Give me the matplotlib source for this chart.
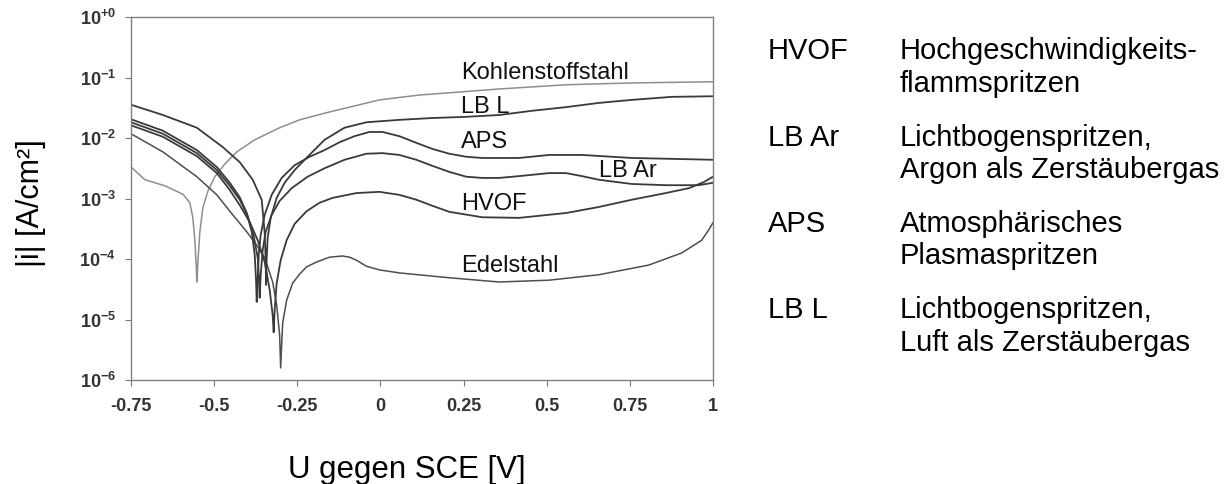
import numpy as np
import matplotlib
matplotlib.use("Agg")
import matplotlib.pyplot as plt
from matplotlib.ticker import FixedLocator, FixedFormatter, NullLocator


# Stromdichte-Potential-Kurven, Potential in V gegen SCE, log10 |i| in A/cm²

u_kohlenstoffstahl = [-0.75, -0.708, -0.648, -0.594, -0.573, -0.564, -0.558, -0.554,
                      -0.552, -0.549, -0.543, -0.534, -0.519, -0.498, -0.468, -0.432,
                      -0.378, -0.303, -0.243, -0.168, -0.093, -0.003, 0.117, 0.237,
                      0.357, 0.558, 0.756, 1.0]
log_i_kohlenstoffstahl = [-2.48, -2.69, -2.79, -2.93, -3.07, -3.32, -3.69, -4.10,
                          -4.38, -4.05, -3.55, -3.16, -2.88, -2.64, -2.43, -2.23,
                          -2.03, -1.83, -1.70, -1.59, -1.49, -1.37, -1.29, -1.24,
                          -1.19, -1.12, -1.09, -1.07]

u_lb_l = [-0.75, -0.654, -0.552, -0.474, -0.423, -0.384, -0.357, -0.348, -0.345,
          -0.344, -0.342, -0.339, -0.330, -0.312, -0.288, -0.258, -0.219, -0.168,
          -0.108, -0.042, 0.057, 0.156, 0.258, 0.357, 0.456, 0.558, 0.657, 0.756,
          0.876, 1.0]
log_i_lb_l = [-1.45, -1.62, -1.83, -2.15, -2.40, -2.69, -3.02, -3.57, -4.02,
              -4.43, -3.98, -3.65, -3.32, -2.99, -2.74, -2.53, -2.31, -2.03,
              -1.83, -1.74, -1.70, -1.67, -1.65, -1.62, -1.55, -1.49, -1.42, -1.37,
              -1.32, -1.31]

u_aps = [-0.75, -0.654, -0.552, -0.492, -0.453, -0.423, -0.402, -0.387, -0.378,
         -0.374, -0.372, -0.369, -0.366, -0.360, -0.348, -0.327, -0.297, -0.258,
         -0.213, -0.168, -0.123, -0.078, -0.033, 0.006, 0.057, 0.108, 0.156, 0.207,
         0.258, 0.306, 0.417, 0.507, 0.606, 0.756, 1.0]
log_i_aps = [-1.69, -1.88, -2.20, -2.48, -2.74, -2.98, -3.24, -3.55, -3.93,
             -4.35, -4.71, -4.35, -3.93, -3.60, -3.27, -2.94, -2.66, -2.45,
             -2.31, -2.20, -2.07, -1.97, -1.90, -1.90, -1.97, -2.08, -2.18, -2.26,
             -2.31, -2.33, -2.33, -2.28, -2.28, -2.33, -2.36]

u_lb_ar = [-0.75, -0.654, -0.552, -0.492, -0.453, -0.423, -0.399, -0.381, -0.369,
           -0.365, -0.363, -0.360, -0.354, -0.345, -0.327, -0.303, -0.267, -0.219,
           -0.168, -0.108, -0.042, 0.006, 0.057, 0.108, 0.156, 0.207, 0.258, 0.306,
           0.357, 0.417, 0.507, 0.558, 0.606, 0.657, 0.756, 0.858, 0.957, 1.0]
log_i_lb_ar = [-1.74, -1.93, -2.25, -2.53, -2.79, -3.02, -3.29, -3.62, -3.98,
               -4.35, -4.64, -4.26, -3.85, -3.55, -3.27, -3.04, -2.83, -2.64,
               -2.50, -2.36, -2.26, -2.25, -2.28, -2.36, -2.46, -2.56, -2.64, -2.66,
               -2.66, -2.63, -2.58, -2.58, -2.63, -2.69, -2.76, -2.78, -2.78, -2.74]

u_hvof = [-0.75, -0.654, -0.552, -0.492, -0.453, -0.423, -0.393, -0.369, -0.348,
          -0.333, -0.324, -0.321, -0.318, -0.312, -0.300, -0.282, -0.258, -0.222,
          -0.183, -0.144, -0.072, -0.003, 0.057, 0.108, 0.156, 0.207, 0.306, 0.417,
          0.558, 0.657, 0.756, 0.858, 0.927, 0.972, 1.0]
log_i_hvof = [-1.79, -1.98, -2.30, -2.58, -2.86, -3.11, -3.39, -3.69, -4.05,
              -4.51, -4.93, -5.21, -4.84, -4.40, -4.02, -3.69, -3.42, -3.21,
              -3.07, -2.99, -2.91, -2.89, -2.94, -3.02, -3.12, -3.22, -3.31, -3.32,
              -3.24, -3.14, -3.02, -2.91, -2.83, -2.73, -2.64]

u_edelstahl = [-0.75, -0.654, -0.552, -0.492, -0.444, -0.402, -0.372, -0.348, -0.324,
               -0.312, -0.303, -0.300, -0.297, -0.294, -0.282, -0.264, -0.243, -0.222,
               -0.192, -0.153, -0.114, -0.093, -0.072, -0.042, -0.003, 0.057, 0.207,
               0.357, 0.507, 0.657, 0.807, 0.906, 0.966, 0.987, 1.0]
log_i_edelstahl = [-1.93, -2.23, -2.64, -2.94, -3.27, -3.55, -3.77, -3.98, -4.38,
                   -4.76, -5.26, -5.80, -5.42, -5.06, -4.68, -4.40, -4.25, -4.13,
                   -4.05, -3.97, -3.95, -3.97, -4.02, -4.12, -4.18, -4.23, -4.31,
                   -4.38, -4.35, -4.26, -4.10, -3.90, -3.69, -3.52, -3.40]

x_ticks = [-0.75, -0.5, -0.25, 0, 0.25, 0.5, 0.75, 1]
x_tick_labels = ["-0.75", "-0.5", "-0.25", "0", "0.25", "0.5", "0.75", "1"]
y_ticks = [1e-6, 1e-5, 1e-4, 1e-3, 1e-2, 1e-1, 1e0]
y_tick_labels = [r"$\mathbf{10^{-6}}$", r"$\mathbf{10^{-5}}$", r"$\mathbf{10^{-4}}$",
                 r"$\mathbf{10^{-3}}$", r"$\mathbf{10^{-2}}$", r"$\mathbf{10^{-1}}$",
                 r"$\mathbf{10^{+0}}$"]

legend_abbreviations = ["HVOF", "LB Ar", "APS", "LB L"]
legend_descriptions = [["Hochgeschwindigkeits-", "flammspritzen"],
                       ["Lichtbogenspritzen,", "Argon als Zerstäubergas"],
                       ["Atmosphärisches", "Plasmaspritzen"],
                       ["Lichtbogenspritzen,", "Luft als Zerstäubergas"]]


plt.rcParams["font.family"] = ["Liberation Sans", "DejaVu Sans"]
plt.rcParams["mathtext.fontset"] = "custom"
plt.rcParams["mathtext.rm"] = "Liberation Sans"
plt.rcParams["mathtext.bf"] = "Liberation Sans:bold"

W, H = 1230, 484
DARK = "#3a3a3a"


def px_x(x):
    return x / W


def px_y(y):
    return 1 - y / H


def draw_curves(ax):
    curves = [
        (u_kohlenstoffstahl, log_i_kohlenstoffstahl, "#8e8e8e", 1.1),
        (u_edelstahl, log_i_edelstahl, "#4e4e4e", 1.1),
        (u_hvof, log_i_hvof, DARK, 1.3),
        (u_lb_ar, log_i_lb_ar, DARK, 1.3),
        (u_aps, log_i_aps, DARK, 1.3),
        (u_lb_l, log_i_lb_l, DARK, 1.3),
    ]
    for u, log_i, color, lw in curves:
        ax.plot(u, 10 ** np.array(log_i), color=color, lw=lw,
                solid_joinstyle="round")


def label_curves(ax):
    kw = dict(fontsize=17, color="#111111", va="baseline", ha="left")
    ax.text(0.243, 10 ** -1.03, "Kohlenstoffstahl", **kw)
    ax.text(0.243, 10 ** -1.59, "LB L", **kw)
    ax.text(0.243, 10 ** -2.17, "APS", **kw)
    ax.text(0.657, 10 ** -2.65, "LB Ar", **kw)
    ax.text(0.243, 10 ** -3.19, "HVOF", **kw)
    ax.text(0.243, 10 ** -4.22, "Edelstahl", **kw)


def set_axes(ax):
    ax.set_yscale("log")
    ax.set_xlim(-0.75, 1)
    ax.set_ylim(1e-6, 1e0)
    ax.xaxis.set_major_locator(FixedLocator(x_ticks))
    ax.xaxis.set_major_formatter(FixedFormatter(x_tick_labels))
    ax.yaxis.set_major_locator(FixedLocator(y_ticks))
    ax.yaxis.set_major_formatter(FixedFormatter(y_tick_labels))
    ax.yaxis.set_minor_locator(NullLocator())
    ax.tick_params(axis="x", length=4, width=0.8, color="#777777", pad=9,
                   labelsize=13, labelcolor="#333333")
    ax.tick_params(axis="y", length=4, width=0.8, color="#777777", pad=7,
                   labelsize=13, labelcolor="#333333")
    for label in ax.get_xticklabels():
        label.set_fontweight("bold")
    for spine in ax.spines.values():
        spine.set_color("#808080")
        spine.set_linewidth(1.0)


def draw_legend(fig):
    for k, (abbr, lines) in enumerate(zip(legend_abbreviations, legend_descriptions)):
        base = 59 + k * 86.5
        fig.text(px_x(768), px_y(base), abbr, fontsize=21, va="baseline", ha="left")
        for j, line in enumerate(lines):
            fig.text(px_x(900), px_y(base + j * 32.5), line, fontsize=21,
                     va="baseline", ha="left")


fig = plt.figure(figsize=(W / 100, H / 100), dpi=100)
ax = fig.add_axes([px_x(131), px_y(380), (713 - 131) / W, (380 - 17) / H])

draw_curves(ax)
label_curves(ax)
set_axes(ax)
draw_legend(fig)

fig.text(px_x(407), px_y(478), "U gegen SCE [V]", fontsize=22.5,
         ha="center", va="baseline")
fig.text(px_x(31), px_y(203), "|i| [A/cm²]", fontsize=22, rotation=90,
         ha="center", va="center")

fig.savefig("out.png", dpi=100, facecolor="white")
